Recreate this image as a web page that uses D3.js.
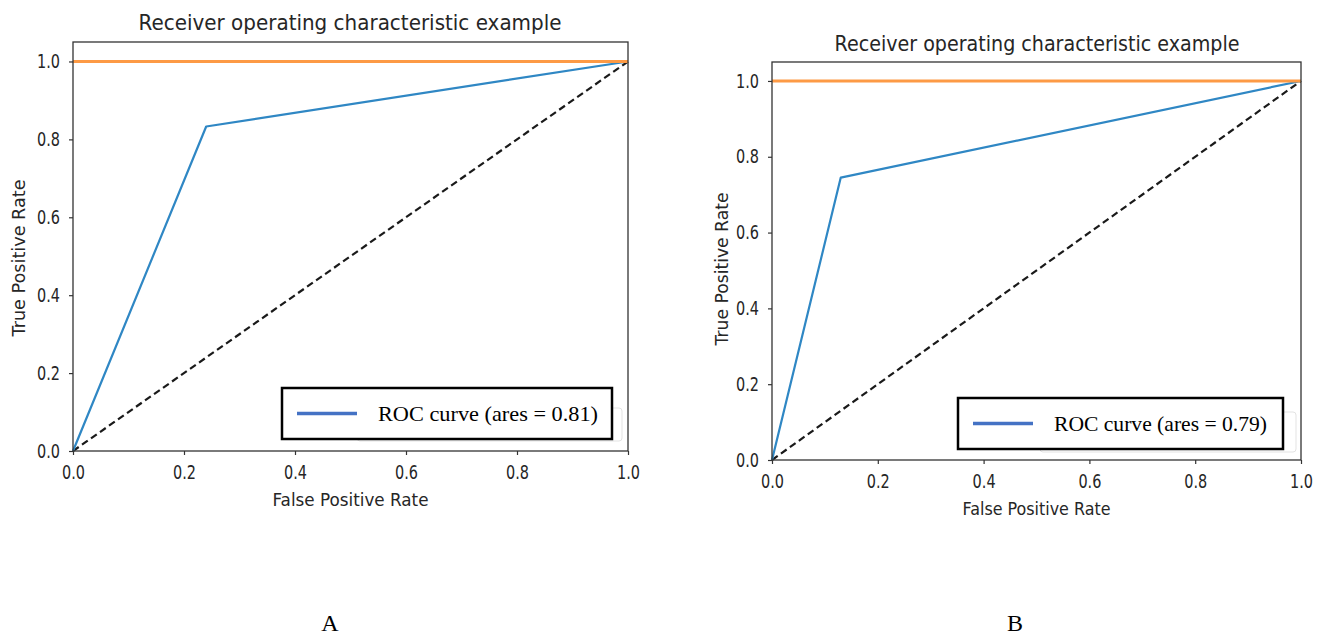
<!DOCTYPE html>
<html>
<head>
<meta charset="utf-8">
<script src="https://cdn.jsdelivr.net/npm/d3@7"></script>
<style>
  html, body { margin: 0; padding: 0; background: #fff; }
  svg { display: block; }
</style>
</head>
<body>
<svg id="chart" width="1317" height="635"></svg>
<script>
// ROC curves for two classifiers (panels A and B)
const panelNames = ["A", "B"];
const titleText = "Receiver operating characteristic example";
const xLabelText = "False Positive Rate";
const yLabelText = "True Positive Rate";
const tickValues = [0.0, 0.2, 0.4, 0.6, 0.8, 1.0];

const fprA = [0.0, 0.24, 1.0];
const tprA = [0.0, 0.833, 1.0];
const fprB = [0.0, 0.13, 1.0];
const tprB = [0.0, 0.745, 1.0];

// perfect classifier reference and chance diagonal
const perfectX = [0.0, 1.0];
const perfectY = [1.0, 1.0];
const chanceX = [0.0, 1.0];
const chanceY = [0.0, 1.0];

const aucValues = ["0.81", "0.79"];

// panel layouts in page pixels
const layouts = [
  { left: 73, right: 628, top: 42, bottom: 451, titleX: 350, titleY: 30, titleW: 423,
    xlabY: 506, xlabW: 156, ylabX: 25, ylabW: 157, ylabY: 258,
    leg: { x: 282, y: 388, w: 330, h: 51 }, ghost: { x: 357, y: 408, w: 265, h: 33 },
    legTextW: 220, capX: 330, capY: 631 },
  { left: 772, right: 1301, top: 62, bottom: 460, titleX: 1037, titleY: 51, titleW: 405,
    xlabY: 515, xlabW: 148, ylabX: 728, ylabW: 153, ylabY: 269,
    leg: { x: 958, y: 398, w: 325, h: 51 }, ghost: { x: 1040, y: 412, w: 256, h: 40 },
    legTextW: 213, capX: 1015, capY: 631 }
];

const series = [
  { fpr: fprA, tpr: tprA },
  { fpr: fprB, tpr: tprB }
];

const svg = d3.select("#chart");
const axisFont = "'DejaVu Sans', sans-serif";
const serifFont = "'Liberation Serif', 'Times New Roman', serif";
const textColor = "#262626";

function drawPanel(i) {
  const L = layouts[i];
  const x = d3.scaleLinear().domain([0, 1]).range([L.left, L.right]);
  const y = d3.scaleLinear().domain([0, 1.05]).range([L.bottom, L.top]);
  const g = svg.append("g");

  const line = d3.line().x(d => x(d[0])).y(d => y(d[1]));

  // chance diagonal
  g.append("path")
    .datum(d3.zip(chanceX, chanceY))
    .attr("d", line)
    .attr("fill", "none")
    .attr("stroke", "#1a1a1a")
    .attr("stroke-width", 2.2)
    .attr("stroke-dasharray", "7,4");

  // ROC curve
  g.append("path")
    .datum(d3.zip(series[i].fpr, series[i].tpr))
    .attr("d", line)
    .attr("fill", "none")
    .attr("stroke", "#2f87c4")
    .attr("stroke-width", 2.2)
    .attr("stroke-linejoin", "round");

  // perfect classifier line
  g.append("path")
    .datum(d3.zip(perfectX, perfectY))
    .attr("d", line)
    .attr("fill", "none")
    .attr("stroke", "#fd9a45")
    .attr("stroke-width", 3);

  // axes
  const fmt = d3.format(".1f");
  const xAxis = d3.axisBottom(x).tickValues(tickValues).tickFormat(fmt).tickSize(4).tickPadding(11);
  const yAxis = d3.axisLeft(y).tickValues(tickValues).tickFormat(fmt).tickSize(4).tickPadding(9);

  const gx = g.append("g").attr("transform", `translate(0,${L.bottom})`).call(xAxis);
  const gy = g.append("g").attr("transform", `translate(${L.left},0)`).call(yAxis);
  [gx, gy].forEach(a => {
    a.select(".domain").remove();
    a.selectAll(".tick line").attr("stroke", "#333").attr("stroke-width", 1.2);
    a.selectAll(".tick text")
      .attr("fill", textColor)
      .attr("textLength", 23)
      .attr("lengthAdjust", "spacingAndGlyphs")
      .style("font-family", axisFont)
      .style("font-size", "19px");
  });

  // frame
  g.append("rect")
    .attr("x", L.left).attr("y", L.top)
    .attr("width", L.right - L.left).attr("height", L.bottom - L.top)
    .attr("fill", "none").attr("stroke", "#333").attr("stroke-width", 1.3);

  // title and axis labels
  g.append("text")
    .attr("x", L.titleX).attr("y", L.titleY)
    .attr("text-anchor", "middle")
    .attr("textLength", L.titleW).attr("lengthAdjust", "spacingAndGlyphs")
    .style("font-family", axisFont).style("font-size", "21px")
    .attr("fill", textColor)
    .text(titleText);

  g.append("text")
    .attr("x", (L.left + L.right) / 2).attr("y", L.xlabY)
    .attr("text-anchor", "middle")
    .attr("textLength", L.xlabW).attr("lengthAdjust", "spacingAndGlyphs")
    .style("font-family", axisFont).style("font-size", "18px")
    .attr("fill", textColor)
    .text(xLabelText);

  g.append("text")
    .attr("transform", `translate(${L.ylabX},${L.ylabY}) rotate(-90)`)
    .attr("text-anchor", "middle")
    .attr("textLength", L.ylabW).attr("lengthAdjust", "spacingAndGlyphs")
    .style("font-family", axisFont).style("font-size", "18px")
    .attr("fill", textColor)
    .text(yLabelText);

  // faint original legend frame behind the boxed legend
  g.append("rect")
    .attr("x", L.ghost.x).attr("y", L.ghost.y)
    .attr("width", L.ghost.w).attr("height", L.ghost.h)
    .attr("rx", 3)
    .attr("fill", "#fff").attr("stroke", "#e3e3e3").attr("stroke-width", 1);

  // boxed legend
  const lg = g.append("g");
  lg.append("rect")
    .attr("x", L.leg.x).attr("y", L.leg.y)
    .attr("width", L.leg.w).attr("height", L.leg.h)
    .attr("fill", "#fff").attr("stroke", "#000").attr("stroke-width", 2.5);
  const ly = L.leg.y + L.leg.h / 2;
  lg.append("line")
    .attr("x1", L.leg.x + 15).attr("x2", L.leg.x + 75)
    .attr("y1", ly).attr("y2", ly)
    .attr("stroke", "#4472c4").attr("stroke-width", 3.5);
  lg.append("text")
    .attr("x", L.leg.x + 96).attr("y", ly + 7)
    .attr("textLength", L.legTextW).attr("lengthAdjust", "spacingAndGlyphs")
    .style("font-family", serifFont)
    .style("font-size", "21px")
    .attr("fill", "#000")
    .text(`ROC curve (ares = ${aucValues[i]})`);

  // panel caption
  g.append("text")
    .attr("x", L.capX).attr("y", L.capY)
    .attr("text-anchor", "middle")
    .style("font-family", serifFont)
    .style("font-size", "24px")
    .attr("fill", "#000")
    .text(panelNames[i]);
}

drawPanel(0);
drawPanel(1);
</script>
</body>
</html>
